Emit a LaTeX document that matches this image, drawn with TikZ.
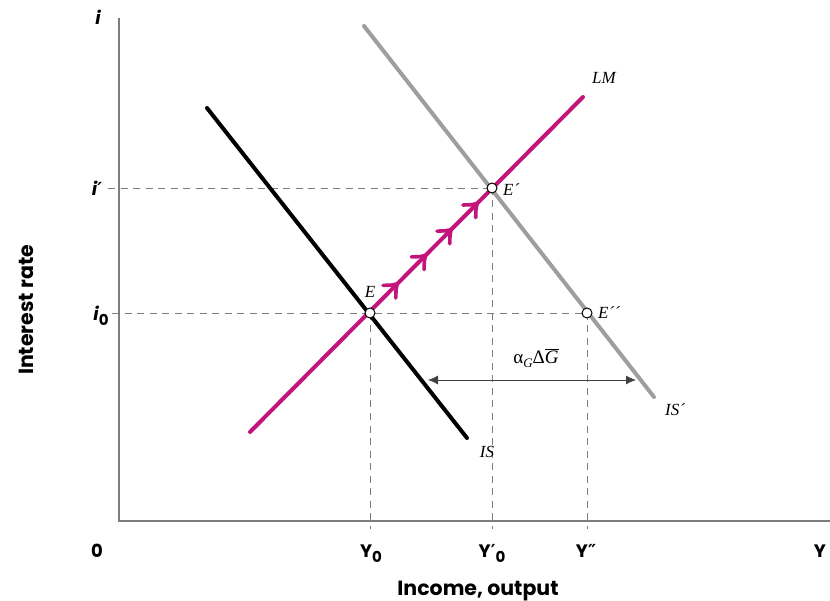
\documentclass[tikz,border=0pt]{standalone}
\usepackage{fontspec}
\setmainfont{Liberation Serif}
\newfontfamily\axfont{Poppins}
\newfontfamily\primefont{DejaVu Sans}
\usetikzlibrary{arrows.meta,decorations.markings}
\definecolor{lmcol}{RGB}{194,20,122}
\definecolor{iscol}{RGB}{158,158,158}
\definecolor{axcol}{RGB}{125,125,125}
\newcommand{\sub}[1]{\raisebox{-5pt}{\upshape\fontsize{15}{15}\selectfont #1}}
\newcommand{\pr}[1]{{\primefont\bfseries #1}}
\begin{document}
\begin{tikzpicture}[x=1pt,y=-1pt,
  axisline/.style={draw=axcol,line width=1.3pt},
  guide/.style={draw=axcol,line width=0.9pt,dash pattern=on 7pt off 5.5pt},
  curve/.style={line width=4pt,line cap=round},
  eqpt/.style={circle,draw=black,fill=white,inner sep=0pt,minimum size=10pt,line width=1pt},
  axlab/.style={font=\axfont\bfseries\fontsize{18}{20}\selectfont,inner sep=0pt},
  bigaxlab/.style={font=\axfont\bfseries\fontsize{20.5}{22}\selectfont,inner sep=0pt},
  serlab/.style={font=\itshape\fontsize{17}{18}\selectfont,inner sep=0pt},
  barbline/.style={draw=lmcol,line width=3.6pt,line cap=round,line join=round},
]
\useasboundingbox (0,0) rectangle (830,601);
% axes
\coordinate (top) at (119,18);
\coordinate (O) at (119,521);
\coordinate (xend) at (830,521);
\draw[axisline] (top) -- (O) -- (xend);
% key points
\coordinate (E0) at (370,313);
\coordinate (E1) at (492,188);
\coordinate (E2) at (587,313);
\coordinate (iP) at (108,188);
\coordinate (i0) at (112,313);
\coordinate (y0) at (370,529);
\coordinate (y1) at (492,529);
\coordinate (y2) at (587,529);
% guides
\draw[guide] (iP) -- (E1);
\draw[guide] (i0) -- (E2);
\draw[guide] (E0) -- (y0);
\draw[guide] (E1) -- (y1);
\draw[guide] (E2) -- (y2);
% curves
\coordinate (ISa) at (207,108);
\coordinate (ISb) at (467,438);
\coordinate (ISpa) at (364,26);
\coordinate (ISpb) at (654,397);
\coordinate (LMa) at (250,432);
\coordinate (LMb) at (583,97);
\draw[curve,black] (ISa) -- (ISb);
\draw[curve,iscol] (ISpa) -- (ISpb);
\draw[curve,lmcol,postaction={decorate},
  decoration={markings,
   mark=at position 0.442 with {\draw[barbline] (-11pt,9pt) -- (-5pt,3.4pt) -- (0pt,0pt) -- (-5pt,-3.4pt) -- (-11pt,-9pt);},
   mark=at position 0.527 with {\draw[barbline] (-11pt,9pt) -- (-5pt,3.4pt) -- (0pt,0pt) -- (-5pt,-3.4pt) -- (-11pt,-9pt);},
   mark=at position 0.604 with {\draw[barbline] (-11pt,9pt) -- (-5pt,3.4pt) -- (0pt,0pt) -- (-5pt,-3.4pt) -- (-11pt,-9pt);},
   mark=at position 0.682 with {\draw[barbline] (-11pt,9pt) -- (-5pt,3.4pt) -- (0pt,0pt) -- (-5pt,-3.4pt) -- (-11pt,-9pt);}}]
  (LMa) -- (LMb);
% equilibrium points
\node[eqpt] (E) at (E0) {};
\node[eqpt] (Ep) at (E1) {};
\node[eqpt] (Epp) at (E2) {};
% shift arrow
\coordinate (dl) at (428,380);
\coordinate (dr) at (636,380);
\draw[{Latex[length=10pt,width=9pt]}-{Latex[length=10pt,width=9pt]},line width=0.8pt,draw=black!75] (dl) -- (dr);
\node[font=\fontsize{19}{20}\selectfont,inner sep=0pt] (dG) at (536,358) {α\raisebox{-4pt}{\fontsize{13}{13}\selectfont\textit{G}}Δ$\overline{\hbox{\textit{G}}}$};
% serif labels
\node[serlab] (LMl) at (604,78) {LM};
\node[serlab] (ISl) at (487,452) {IS};
\node[serlab] (ISpl) at (675,410) {IS´};
\node[serlab] (El) at (370,292) {E};
\node[serlab,anchor=west] (Epl) at (503,190) {E´};
\node[serlab,anchor=west] (Eppl) at (598,313) {E´´};
% axis labels
\node[axlab,anchor=base] (il) at (98,25) {\itshape i};
\node[axlab,anchor=base] (ipl) at (97,196) {\itshape i\pr{′}};
\node[axlab,anchor=base] (i0l) at (101,321) {\itshape i\sub{0}};
\node[axlab,anchor=base] (zl) at (97,557) {0};
\node[axlab,anchor=base] (Y0l) at (371,557) {Y\sub{0}};
\node[axlab,anchor=base] (Y1l) at (492,557) {Y\pr{′}\sub{0}};
\node[axlab,anchor=base] (Y2l) at (586,557) {Y\pr{″}};
\node[axlab,anchor=base] (Yl) at (820,557) {Y};
\node[bigaxlab,anchor=base] (xl) at (478,595) {Income, output};
\node[bigaxlab,rotate=90] (yl) at (26,310) {Interest rate};
\end{tikzpicture}
\end{document}
